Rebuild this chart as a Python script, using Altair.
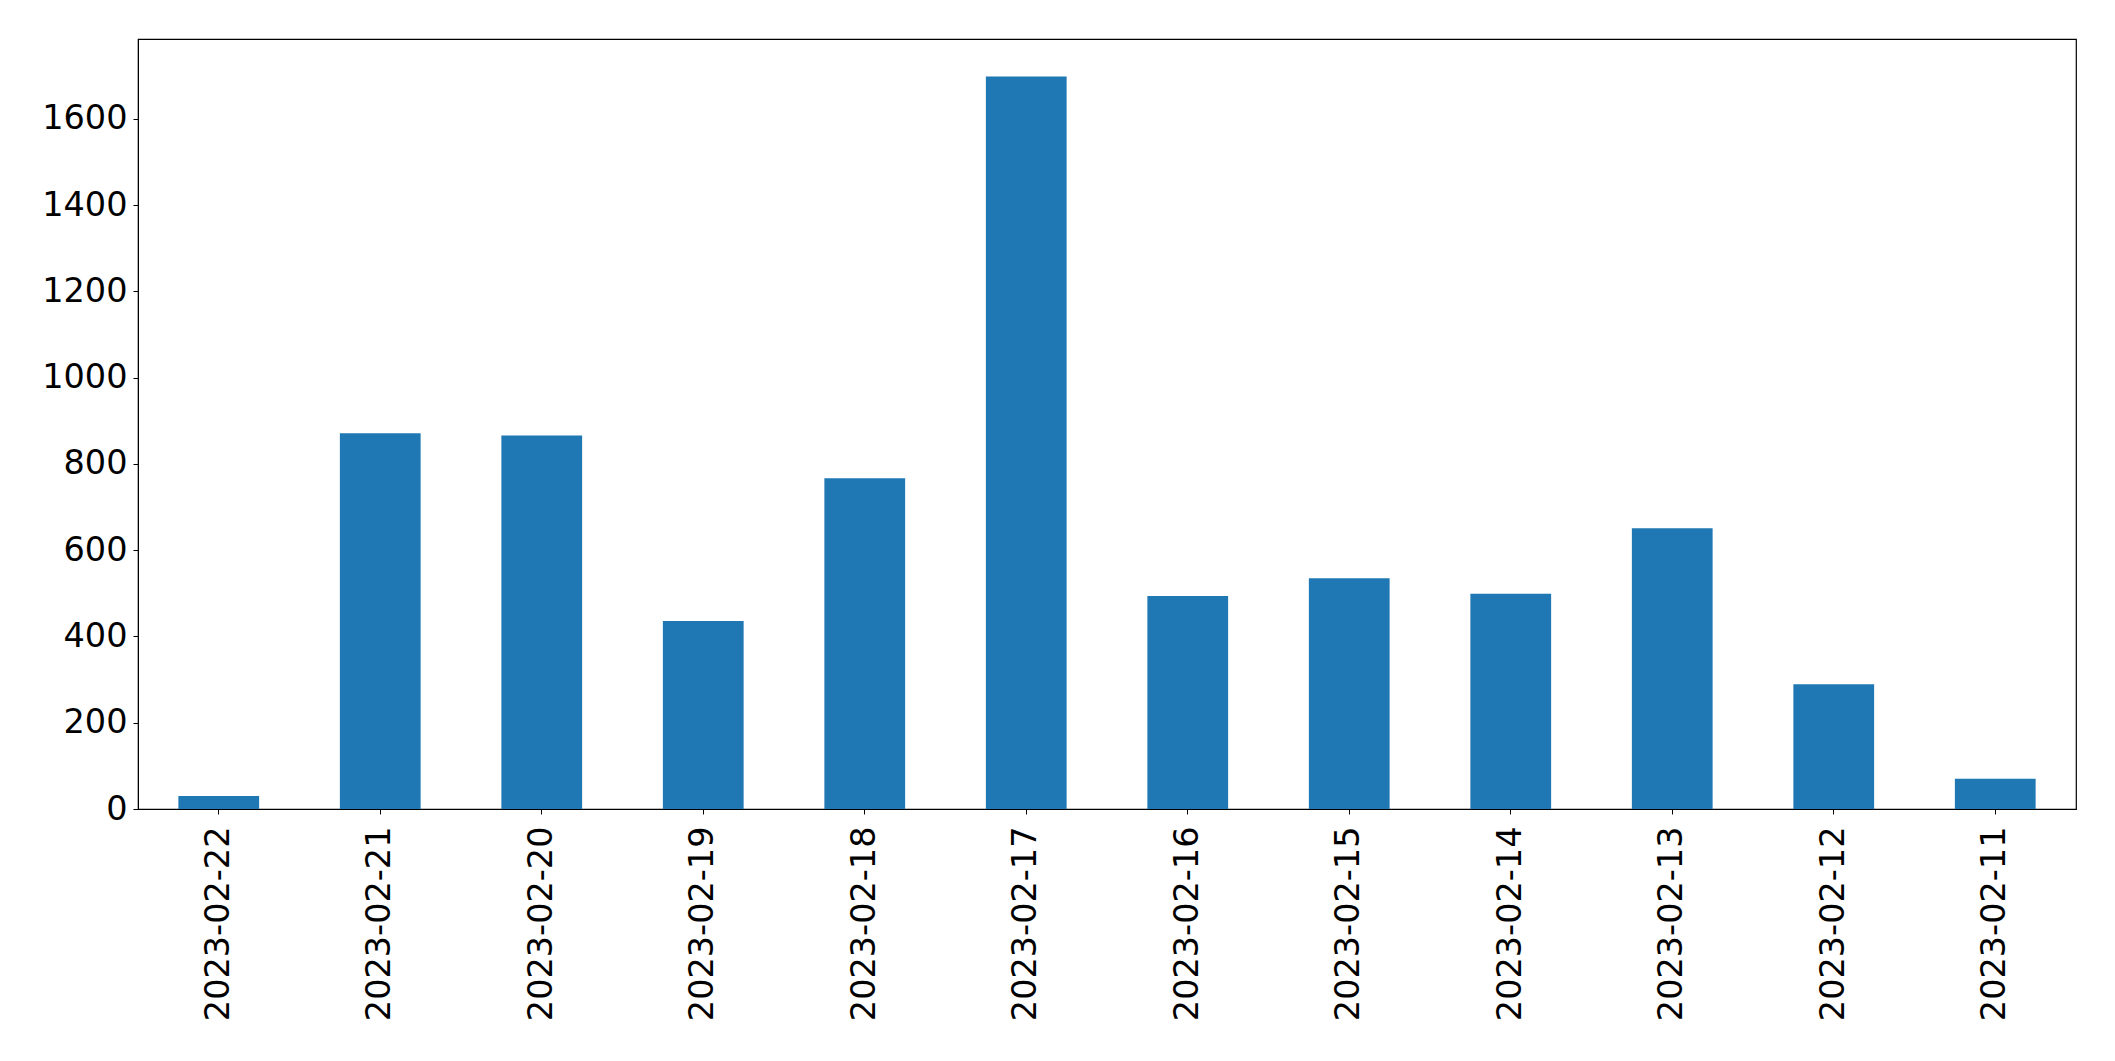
import altair as alt
import pandas as pd

dates = ["2023-02-22", "2023-02-21", "2023-02-20", "2023-02-19", "2023-02-18",
         "2023-02-17", "2023-02-16", "2023-02-15", "2023-02-14", "2023-02-13",
         "2023-02-12", "2023-02-11"]
counts = [30, 871, 866, 436, 767, 1698, 494, 535, 499, 651, 289, 70]
y_ticks = [0, 200, 400, 600, 800, 1000, 1200, 1400, 1600]

df = pd.DataFrame({"date": dates, "count": counts})

chart = alt.Chart(df).mark_bar(color="#1f77b4").encode(
    x=alt.X("date:N", sort=dates, title=None,
            scale=alt.Scale(paddingInner=0.5, paddingOuter=0.25),
            axis=alt.Axis(labelAngle=270, labelFontSize=33.5, labelFont="DejaVu Sans",
                          labelColor="black", tickColor="black", domainColor="black",
                          tickSize=5, labelPadding=12, grid=False, labelAlign="right",
                          labelBaseline="middle", labelLimit=0, labelOverlap=False)),
    y=alt.Y("count:Q", title=None,
            scale=alt.Scale(domain=[0, 1785], nice=False),
            axis=alt.Axis(values=y_ticks, format="d", labelFontSize=33.5,
                          labelFont="DejaVu Sans", labelLimit=0,
                          labelColor="black", tickColor="black", domainColor="black",
                          tickSize=5, labelPadding=6, grid=False)),
).properties(
    width=1938, height=770,
    autosize=alt.AutoSizeParams(type="none"),
    padding={"left": 130, "top": 31, "right": 30, "bottom": 240},
).configure_view(stroke="black", strokeWidth=1.2)

chart.save("out.html", embed_options={"renderer": "svg", "actions": False})
